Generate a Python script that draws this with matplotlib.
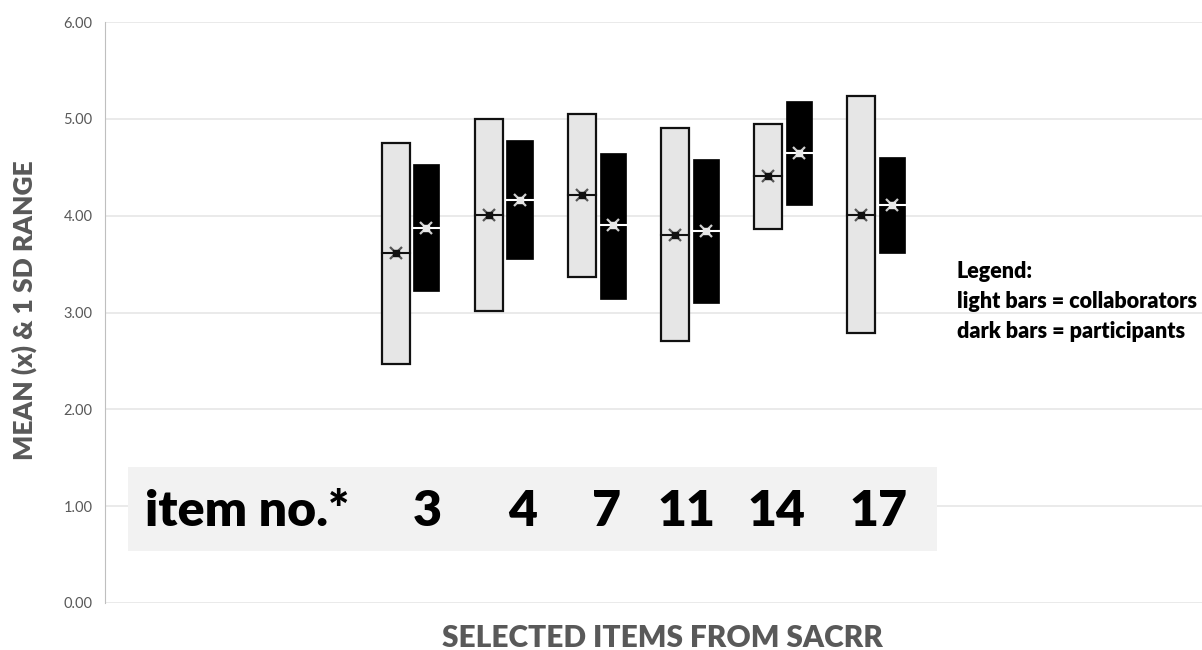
import numpy as np
import matplotlib
matplotlib.use("Agg")
import matplotlib.pyplot as plt
from matplotlib.patches import Rectangle

# data (mean, and mean +/- 1 SD)
items = ["3", "4", "7", "11", "14", "17"]
collab_mean = [3.61, 4.01, 4.21, 3.80, 4.41, 4.01]
collab_hi   = [4.75, 5.00, 5.05, 4.91, 4.95, 5.24]
collab_lo   = [2.47, 3.02, 3.37, 2.71, 3.86, 2.79]
part_mean   = [3.87, 4.16, 3.90, 3.84, 4.65, 4.11]
part_hi     = [4.53, 4.78, 4.65, 4.59, 5.18, 4.61]
part_lo     = [3.22, 3.55, 3.14, 3.10, 4.11, 3.61]
yticks = [0, 1, 2, 3, 4, 5, 6]

W, H = 1202, 650
FONT = "Lato"
GRAY = "#595959"

fig = plt.figure(figsize=(W/100, H/100), dpi=100)
ax = fig.add_axes([105/W, 47/H, (W-105)/W, 581/H])

x = np.arange(len(items))
off, bw = 0.165, 0.30

for i in range(len(items)):
    # light bar = collaborators
    xl = x[i] - off
    ax.add_patch(Rectangle((xl - bw/2, collab_lo[i]), bw, collab_hi[i]-collab_lo[i],
                           fc="#e6e6e6", ec="#111111", lw=1.6, zorder=3))
    ax.plot([xl - bw/2, xl + bw/2], [collab_mean[i]]*2, c="#111111", lw=1.5, zorder=4)
    ax.plot(xl, collab_mean[i], marker="x", ms=9, mew=1.6, c="#555555", zorder=5)
    ax.plot(xl, collab_mean[i], marker="s", ms=4, c="#111111", zorder=6)
    # dark bar = participants
    xd = x[i] + off
    ax.add_patch(Rectangle((xd - bw/2 + 0.01, part_lo[i]), bw - 0.02, part_hi[i]-part_lo[i],
                           fc="black", ec="black", lw=0.5, zorder=3))
    ax.plot([xd - bw/2 + 0.01, xd + bw/2 - 0.01], [part_mean[i]]*2, c="white", lw=1.5, zorder=4)
    ax.plot(xd, part_mean[i], marker="x", ms=9, mew=1.6, c="#cfcfcf", zorder=5)
    ax.plot(xd, part_mean[i], marker="s", ms=4, c="#e8e8e8", zorder=6)

ax.set_xlim(-3.29, 8.5)
ax.set_ylim(0, 6)
ax.set_yticks(yticks)
ax.set_yticklabels(["%.2f" % v for v in yticks], fontsize=10.5, color=GRAY, family=FONT)
ax.set_xticks([])
ax.tick_params(axis="y", length=0, pad=9)
ax.grid(axis="y", color="#e6e6e6", lw=1.2, zorder=0)
ax.set_axisbelow(True)
for s in ["top", "right", "bottom"]:
    ax.spines[s].set_visible(False)
ax.spines["left"].set_color("#bfbfbf")

fig.text(24/W, 1 - 310/H, "MEAN (x) & 1 SD RANGE", rotation=90, ha="center", va="center",
         fontsize=19, fontweight="heavy", color=GRAY, family=FONT)
fig.text(662/W, 1 - 638/H, "SELECTED ITEMS FROM SACRR", ha="center", va="center",
         fontsize=21.5, fontweight="heavy", color=GRAY, family=FONT)

# item number box
fig.patches.append(Rectangle((128/W, 1 - 551/H), (937-128)/W, (551-467)/H,
                             transform=fig.transFigure, fc="#f2f2f2", ec="none", zorder=1))
fig.text(145/W, 1 - 512/H, "item no.*", ha="left", va="center", fontsize=36,
         fontweight="heavy", family=FONT, zorder=2)
num_px = [427, 523, 607, 686, 776, 878]
for t, px in zip(items, num_px):
    fig.text(px/W, 1 - 512/H, t, ha="center", va="center", fontsize=36,
             fontweight="heavy", family=FONT, zorder=2)

fig.text(957/W, 1 - 272/H, "Legend:", ha="left", va="center", fontsize=15.5,
         fontweight="heavy", family=FONT)
fig.text(957/W, 1 - 302/H, "light bars = collaborators", ha="left", va="center",
         fontsize=15.5, fontweight="heavy", family=FONT)
fig.text(957/W, 1 - 332/H, "dark bars = participants", ha="left", va="center",
         fontsize=15.5, fontweight="heavy", family=FONT)

fig.savefig("out.png", dpi=100)
